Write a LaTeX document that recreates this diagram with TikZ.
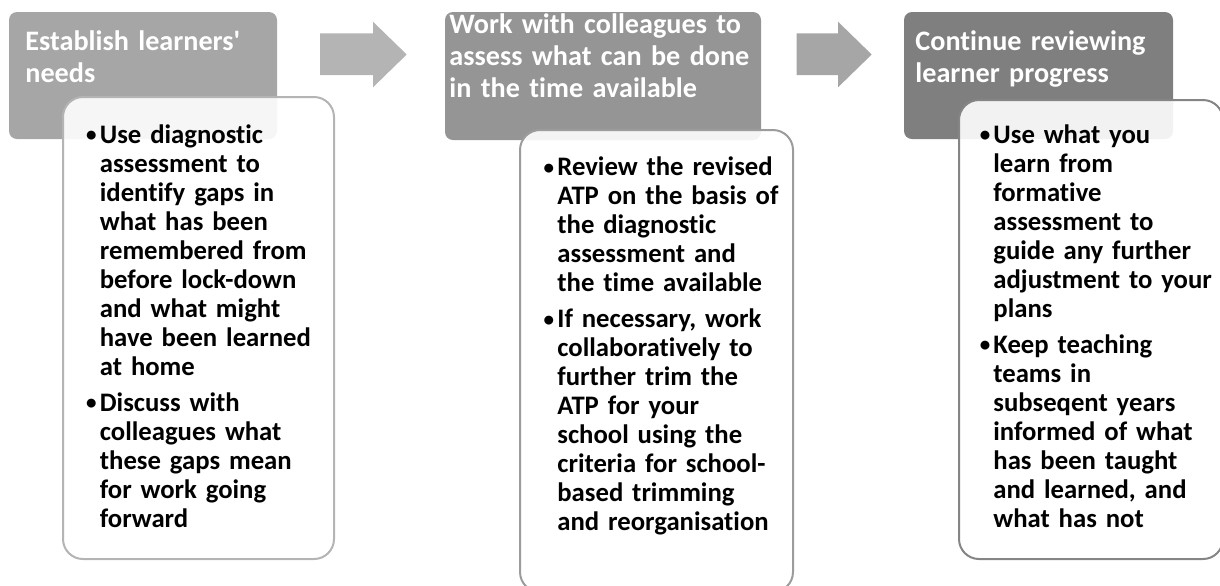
\documentclass[tikz,border=0pt]{standalone}
\usepackage{fontspec}
\setmainfont{Carlito}
\newfontfamily\boxfont{Carlito}[Ligatures=CommonOff]
\usetikzlibrary{positioning, fit}

\definecolor{headA}{HTML}{A6A6A6}
\definecolor{headB}{HTML}{959595}
\definecolor{headC}{HTML}{7F7F7F}
\definecolor{lineA}{HTML}{B4B4B4}
\definecolor{lineB}{HTML}{9C9C9C}
\definecolor{lineC}{HTML}{858585}
\definecolor{arrowA}{HTML}{B4B4B4}
\definecolor{arrowB}{HTML}{A6A6A6}

\newcommand{\bul}{\leavevmode\llap{\raisebox{0.6pt}{\fontsize{10.5pt}{10.5pt}\selectfont •}\hspace{1.6pt}}}

\begin{document}
\begin{tikzpicture}[
            x=0.5pt, y=-0.5pt,
            header/.style={rectangle, rounded corners=4pt, inner sep=0pt, draw=none},
            detail/.style={rectangle, rounded corners=10pt, inner sep=0pt, line width=1pt, fill=white, fill opacity=0.9},
            title/.style={anchor=base west, inner sep=0pt, text=white, text width=150pt, align=left, font=\boxfont\bfseries\fontsize{14.1pt}{16.1pt}\selectfont},
            points/.style={anchor=base west, inner sep=0pt, text=black, text width=118pt, align=left, font=\boxfont\bfseries\fontsize{13.35pt}{14.5pt}\selectfont}
        ]
            \useasboundingbox (0,0) rectangle (1220,585);

            % Header boxes
            \node[header, fill=headA, fit={(9,12) (277,139)}] (head1) {};
            \node[header, fill=headB, fit={(445,12) (761,140)}] (head2) {};
            \node[header, fill=headC, fit={(904,12) (1173,139)}] (head3) {};

            % Block arrows
            \fill[arrowA] (320,33.3) -- ++(53,0) -- ++(0,-11.6) -- (406.7,54.5) -- (373,87.3) -- ++(0,-12.3) -- (320,75) -- cycle;
            \fill[arrowB] (796.7,33.3) -- ++(41.3,0) -- ++(0,-11.6) -- (871.7,54.5) -- (838,87.3) -- ++(0,-12.3) -- (796.7,75) -- cycle;

            % Detail boxes
            \node[detail, draw=lineA, fit={(63,97) (334,559)}] (box1) {};
            \node[detail, draw=lineB, fit={(520,130) (793,592)}] (box2) {};
            \node[detail, draw=lineC, fit={(959,100) (1223,559)}] (box3) {};

            % Titles
            \node[title] (title1) at (25,50.5) {Establish learners'\\needs};
            \node[title] (title2) at (449,33.5) {Work with colleagues to\\assess what can be done\\in the time available};
            \node[title] (title3) at (915,50.5) {Continue reviewing\\learner progress};

            % Bullet lists
            \node[points] (list1) at (99.5,143) {\bul Use diagnostic\\assessment to\\identify gaps in\\what has been\\remembered from\\before lock-down\\and what might\\have been learned\\at home\\[3.5pt]\bul Discuss with\\colleagues what\\these gaps mean\\for work going\\forward};
            \node[points] (list2) at (557,175.5) {\bul Review the revised\\ATP on the basis of\\the diagnostic\\assessment and\\the time available\\[3.5pt]\bul If necessary, work\\collaboratively to\\further trim the\\ATP for your\\school using the\\criteria for school-\\based trimming\\and reorganisation};
            \node[points] (list3) at (993,143) {\bul Use what you\\learn from\\formative\\assessment to\\guide any further\\adjustment to your\\plans\\[3.5pt]\bul Keep teaching\\teams in\\subseqent years\\informed of what\\has been taught\\and learned, and\\what has not};

        \end{tikzpicture}
\end{document}
